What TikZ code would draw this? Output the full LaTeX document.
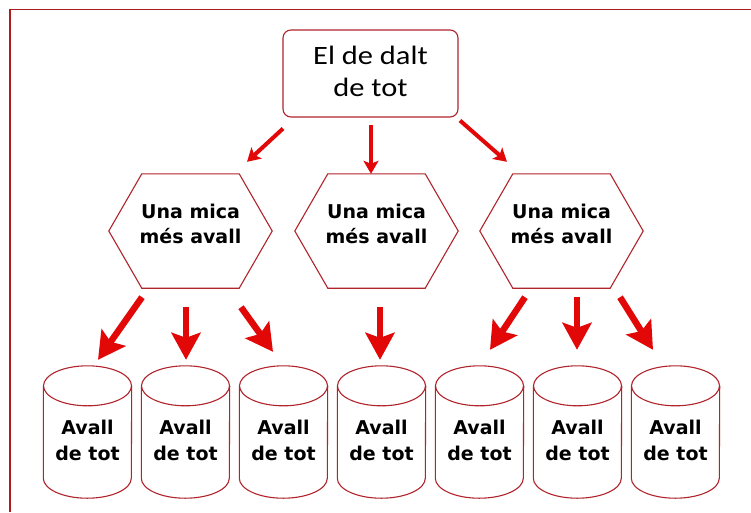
\documentclass[tikz,border=0pt]{standalone}
\usepackage{fontspec}
\newfontfamily\topfont{Carlito}[FakeStretch=1.15]
\newfontfamily\hexfont{DejaVu Sans}
\usetikzlibrary{arrows.meta}
\definecolor{arrred}{RGB}{226,8,8}
\definecolor{edgered}{RGB}{176,36,44}
\definecolor{framered}{RGB}{170,28,32}
\begin{document}
\begin{tikzpicture}[x=1pt,y=-1pt,
  edge/.style={draw=edgered, line width=1.1pt},
  frameline/.style={draw=framered, line width=1.6pt},
  topbox/.style={edge, rounded corners=8pt, minimum width=175pt, minimum height=87pt, inner sep=0pt},
  hexbox/.style={minimum width=163pt, minimum height=114pt, inner sep=0pt},
  cylbox/.style={minimum width=88pt, minimum height=132pt, inner sep=0pt},
  toptext/.style={align=center, inner sep=0pt, font={\topfont\fontsize{26.5}{32}\selectfont}},
  lowtext/.style={align=center, inner sep=0pt, font={\hexfont\bfseries\fontsize{19}{25.5}\selectfont}},
  smallarrow/.style={draw=arrred, line width=4pt, -{Stealth[length=13pt,width=15pt,inset=3pt]}},
  bigarrow/.style={draw=arrred, line width=6.5pt, -{Stealth[length=27pt,width=29pt,inset=5pt]}}
]
\useasboundingbox (0,0) rectangle (751,512);
\fill[white] (0,0) rectangle (751,512);
\draw[frameline] (10,512) -- (10,9.5) -- (751,9.5);

% top box
\node[topbox] (top) at (370.5,73.5) {};
\node[toptext] (toptxt) at (370.5,71.6) {El de dalt\\de tot};

% hexagons
\foreach \n/\cx in {h1/190.5, h2/376.5, h3/561.5}{
  \node[hexbox] (\n) at (\cx,231) {};
  \draw[edge] (\n.west) -- ([xshift=33pt]\n.north west) -- ([xshift=-33pt]\n.north east)
     -- (\n.east) -- ([xshift=-33pt]\n.south east) -- ([xshift=33pt]\n.south west) -- cycle;
  \node[lowtext] (\n txt) at (\cx,223.8) {Una mica\\més avall};
}

% cylinders
\foreach \n/\cx in {c1/87.5, c2/185.5, c3/283.5, c4/381.5, c5/479.5, c6/577.5, c7/675.5}{
  \node[cylbox] (\n) at (\cx,432) {};
  \draw[edge] ([yshift=-20pt]\n.north) ellipse [x radius=44pt, y radius=20pt];
  \draw[edge] ([yshift=-20pt]\n.north west) -- ([yshift=20pt]\n.south west)
     arc[start angle=180, end angle=360, x radius=44pt, y radius=20pt]
     -- ([yshift=-20pt]\n.north east);
  \node[lowtext] (\n txt) at (\cx,440.5) {Avall\\de tot};
}

% top-level arrows
\draw[smallarrow] ([shift={(-87.5,11)}]top.south) -- ([shift={(56.5,-12)}]h1.north);
\draw[smallarrow] ([shift={(0.5,7)}]top.south) -- ([shift={(-5.5,0)}]h2.north);
\draw[smallarrow] ([shift={(89.5,3)}]top.south) -- ([shift={(-54.5,-12)}]h3.north);

% lower arrows
\draw[bigarrow] ([shift={(-48.5,9)}]h1.south) -- ([shift={(10.5,-6)}]c1.north);
\draw[bigarrow] ([shift={(-4.5,19)}]h1.south) -- ([shift={(0.5,-6)}]c2.north);
\draw[bigarrow] ([shift={(50.5,19)}]h1.south) -- ([shift={(-10.5,-14)}]c3.north);
\draw[bigarrow] ([shift={(3.5,19)}]h2.south) -- ([shift={(-1.5,-6)}]c4.north);
\draw[bigarrow] ([shift={(-36.5,9)}]h3.south) -- ([shift={(10.5,-16)}]c5.north);
\draw[bigarrow] ([shift={(15.5,9)}]h3.south) -- ([shift={(-0.5,-16)}]c6.north);
\draw[bigarrow] ([shift={(58.5,9)}]h3.south) -- ([shift={(-22.5,-16)}]c7.north);
\end{tikzpicture}
\end{document}
